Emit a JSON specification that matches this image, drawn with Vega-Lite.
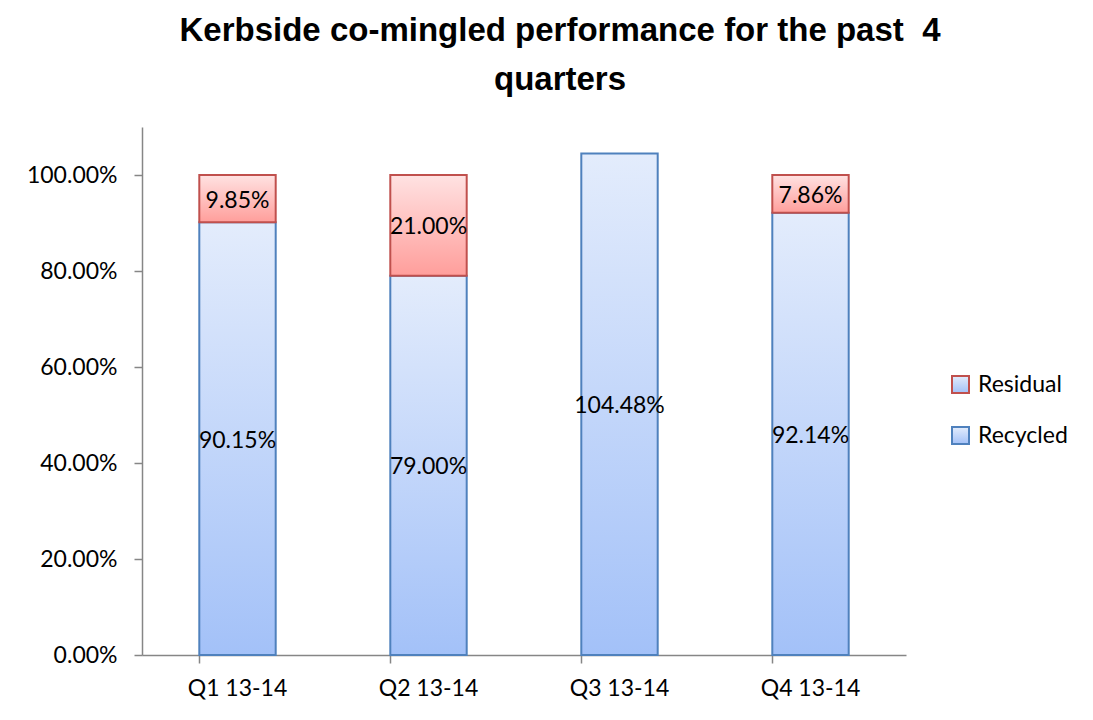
{
  "$schema": "https://vega.github.io/schema/vega-lite/v6.json",
  "width": 764,
  "height": 528,
  "autosize": {"type": "none"},
  "padding": {"left": 142, "top": 127, "right": 187, "bottom": 65},
  "background": "white",
  "config": {"view": {"stroke": null}},
  "title": {
    "text": ["Kerbside co-mingled performance for the past\u00a0 4", "quarters"],
    "font": "Liberation Sans",
    "fontSize": 33,
    "fontWeight": "bold",
    "color": "black",
    "lineHeight": 49,
    "anchor": "middle",
    "frame": "group",
    "dx": 36,
    "offset": 30
  },
  "data": {
    "values": [
      {"quarter": "Q1 13-14", "series": "Recycled", "value": 0.9015, "order": 1},
      {"quarter": "Q1 13-14", "series": "Residual", "value": 0.0985, "order": 2},
      {"quarter": "Q2 13-14", "series": "Recycled", "value": 0.79, "order": 1},
      {"quarter": "Q2 13-14", "series": "Residual", "value": 0.21, "order": 2},
      {"quarter": "Q3 13-14", "series": "Recycled", "value": 1.0448, "order": 1},
      {"quarter": "Q4 13-14", "series": "Recycled", "value": 0.9214, "order": 1},
      {"quarter": "Q4 13-14", "series": "Residual", "value": 0.0786, "order": 2}
    ]
  },
  "transform": [
    {"stack": "value", "groupby": ["quarter"], "sort": [{"field": "order"}], "as": ["v0", "v1"]},
    {"calculate": "(datum.v0 + datum.v1) / 2", "as": "mid"}
  ],
  "encoding": {
    "x": {
      "field": "quarter",
      "type": "nominal",
      "sort": null,
      "scale": {"paddingInner": 0.6, "paddingOuter": 0.3},
      "axis": {
        "title": null,
        "labelAngle": 0,
        "bandPosition": 0,
        "domainColor": "#868686",
        "domainWidth": 1.5,
        "tickColor": "#868686",
        "tickWidth": 1.5,
        "tickSize": 8,
        "labelFont": "Lato",
        "labelFontSize": 23,
        "labelColor": "black",
        "labelPadding": 14
      }
    }
  },
  "layer": [
    {
      "mark": {"type": "bar", "strokeWidth": 2},
      "encoding": {
        "y": {
          "field": "v0",
          "type": "quantitative",
          "scale": {"domain": [0, 1.1], "nice": false},
          "axis": {
            "values": [0, 0.2, 0.4, 0.6, 0.8, 1.0],
            "format": ".2%",
            "title": null,
            "grid": false,
            "domainColor": "#868686",
            "domainWidth": 1.5,
            "tickColor": "#868686",
            "tickWidth": 1.5,
            "tickSize": 8,
            "labelFont": "Lato",
            "labelFontSize": 23,
            "labelColor": "black",
            "labelPadding": 17
          }
        },
        "y2": {"field": "v1"},
        "stroke": {
          "field": "series",
          "type": "nominal",
          "scale": {"domain": ["Residual", "Recycled"], "range": ["#c0504d", "#4f81bd"]},
          "legend": {
            "title": null,
            "orient": "none",
            "legendX": 807,
            "legendY": 246,
            "symbolType": "square",
            "symbolSize": 289,
            "symbolStrokeWidth": 2,
            "labelFont": "Lato",
            "labelFontSize": 23,
            "labelColor": "black",
            "rowPadding": 26,
            "labelOffset": 6,
            "encode": {
              "symbols": {
                "update": {
                  "fill": {"signal": "datum.value === 'Residual' ? '#ffc9c9' : '#c9dbfa'"},
                  "fillOpacity": {"value": 1}
                }
              }
            }
          }
        },
        "fill": {
          "condition": {
            "test": "datum.series === 'Residual'",
            "value": {
              "gradient": "linear", "x1": 0, "y1": 0, "x2": 0, "y2": 1,
              "stops": [{"offset": 0, "color": "#ffe2e2"}, {"offset": 1, "color": "#ff9e9b"}]
            }
          },
          "value": {
            "gradient": "linear", "x1": 0, "y1": 0, "x2": 0, "y2": 1,
            "stops": [{"offset": 0, "color": "#e3ecfc"}, {"offset": 1, "color": "#a3c1f8"}]
          }
        }
      }
    },
    {
      "mark": {"type": "text", "font": "Lato", "fontSize": 23, "color": "black", "dy": 2},
      "encoding": {
        "y": {"field": "mid", "type": "quantitative"},
        "text": {"field": "value", "type": "quantitative", "format": ".2%"}
      }
    }
  ]
}
